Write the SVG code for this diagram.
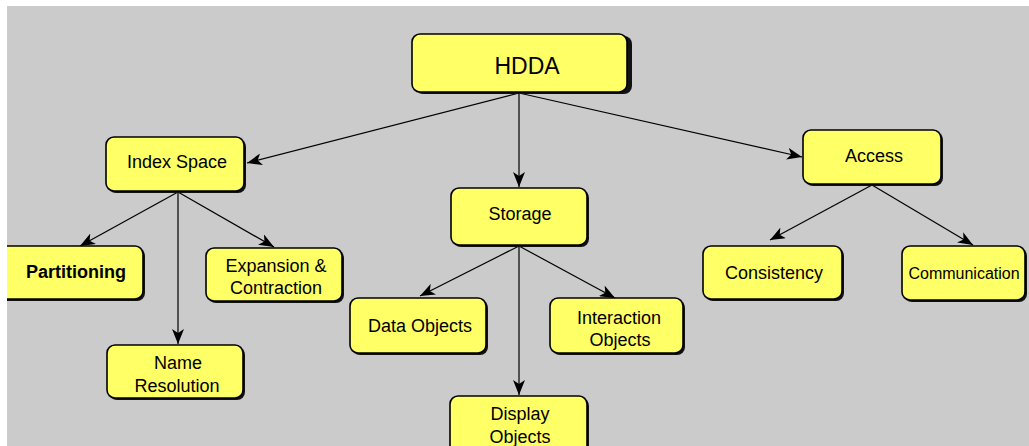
<svg xmlns="http://www.w3.org/2000/svg" width="1029" height="446" viewBox="0 0 1029 446">
<style>
.box{fill:#FFFF66;stroke:#000;stroke-width:1.6}
.sh{fill:#111}
.t{font-family:"Liberation Sans",Arial,sans-serif;font-size:18px;fill:#000;text-anchor:middle}
.c{stroke:#000;stroke-width:1.2;fill:none;marker-end:url(#ah)}
</style>
<defs>
<marker id="ah" markerUnits="userSpaceOnUse" markerWidth="16" markerHeight="12" refX="15" refY="6" orient="auto">
<path d="M0,0 L15,6 L0,12 L4,6 Z" fill="#000"/>
</marker>
<clipPath id="frame"><rect x="7" y="6" width="1022" height="440"/></clipPath>
</defs>
<rect x="0" y="0" width="1029" height="446" fill="#fff"/>
<g clip-path="url(#frame)">
<rect x="7" y="6" width="1022" height="440" fill="#CBCBCB"/>
<g id="connectors">
<line class="c" x1="519" y1="93" x2="247" y2="163"/>
<line class="c" x1="519" y1="93" x2="519" y2="187"/>
<line class="c" x1="519" y1="93" x2="802" y2="157"/>
<line class="c" x1="178" y1="192" x2="80" y2="246"/>
<line class="c" x1="178" y1="192" x2="274" y2="247"/>
<line class="c" x1="178" y1="192" x2="178" y2="344"/>
<line class="c" x1="519" y1="246" x2="420" y2="296"/>
<line class="c" x1="519" y1="246" x2="615" y2="298"/>
<line class="c" x1="519" y1="246" x2="519" y2="395"/>
<line class="c" x1="872" y1="185" x2="770" y2="240"/>
<line class="c" x1="872" y1="185" x2="973" y2="245"/>
</g>
<g id="hdda">
<rect class="sh" x="415" y="36" width="217" height="58" rx="8"/>
<rect class="box" x="412" y="34" width="215" height="58" rx="8"/>
<text class="t" x="527" y="74" style="font-size:23px">HDDA</text>
</g>
<g id="index-space">
<rect class="sh" x="108" y="139" width="138" height="54" rx="8"/>
<rect class="box" x="106" y="137" width="138" height="54" rx="8"/>
<text class="t" x="177" y="168">Index Space</text>
</g>
<g id="partitioning">
<rect class="sh" x="-8" y="248" width="153" height="53" rx="8"/>
<rect class="box" x="-10" y="246" width="153" height="53" rx="8"/>
<text class="t" x="76" y="278" style="font-weight:bold">Partitioning</text>
</g>
<g id="expansion">
<rect class="sh" x="208" y="250" width="136" height="53" rx="8"/>
<rect class="box" x="206" y="248" width="136" height="53" rx="8"/>
<text class="t" x="276" y="272">Expansion &amp;</text>
<text class="t" x="276" y="294">Contraction</text>
</g>
<g id="name-resolution">
<rect class="sh" x="109" y="347" width="136" height="53" rx="8"/>
<rect class="box" x="107" y="345" width="136" height="53" rx="8"/>
<text class="t" x="178" y="369">Name</text>
<text class="t" x="177" y="392">Resolution</text>
</g>
<g id="storage">
<rect class="sh" x="453" y="190" width="136" height="57" rx="8"/>
<rect class="box" x="451" y="188" width="136" height="57" rx="8"/>
<text class="t" x="520" y="220">Storage</text>
</g>
<g id="data-objects">
<rect class="sh" x="352" y="300" width="136" height="55" rx="8"/>
<rect class="box" x="350" y="298" width="136" height="55" rx="8"/>
<text class="t" x="420" y="332">Data Objects</text>
</g>
<g id="interaction-objects">
<rect class="sh" x="552" y="300" width="133" height="55" rx="8"/>
<rect class="box" x="550" y="298" width="133" height="55" rx="8"/>
<text class="t" x="619" y="324">Interaction</text>
<text class="t" x="620" y="346">Objects</text>
</g>
<g id="display-objects">
<rect class="sh" x="452" y="398" width="137" height="60" rx="8"/>
<rect class="box" x="450" y="396" width="137" height="60" rx="8"/>
<text class="t" x="520" y="420">Display</text>
<text class="t" x="520" y="443">Objects</text>
</g>
<g id="access">
<rect class="sh" x="805" y="132" width="138" height="54" rx="8"/>
<rect class="box" x="803" y="130" width="138" height="54" rx="8"/>
<text class="t" x="874" y="162">Access</text>
</g>
<g id="consistency">
<rect class="sh" x="705" y="248" width="139" height="53" rx="8"/>
<rect class="box" x="703" y="246" width="139" height="53" rx="8"/>
<text class="t" x="774" y="279">Consistency</text>
</g>
<g id="communication">
<rect class="sh" x="904" y="248" width="123" height="54" rx="8"/>
<rect class="box" x="902" y="246" width="123" height="54" rx="8"/>
<text class="t" x="964" y="279" style="font-size:16px">Communication</text>
</g>
</g>
</svg>
